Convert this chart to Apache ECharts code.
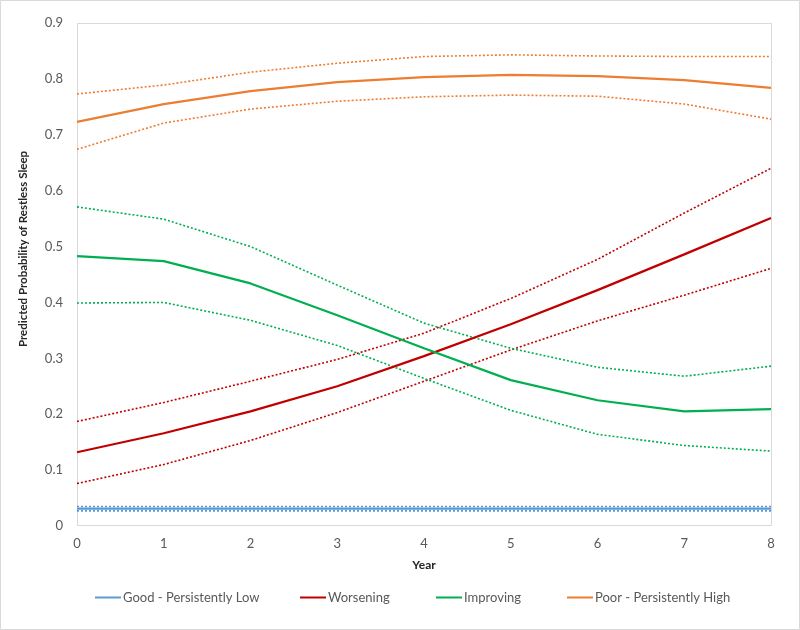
<!DOCTYPE html>
<html><head><meta charset="utf-8">
<script src="https://cdn.jsdelivr.net/npm/echarts@6/dist/echarts.min.js"></script>
<style>html,body{margin:0;padding:0;background:#fff}#c{width:800px;height:630px}</style>
</head><body><div id="c"></div>
<script>
var years = [0,1,2,3,4,5,6,7,8];
var yTicks = [0,0.1,0.2,0.3,0.4,0.5,0.6,0.7,0.8,0.9];
var goodMain  = [0.031,0.031,0.031,0.031,0.031,0.031,0.031,0.031,0.031];
var goodUpper = [0.035,0.035,0.035,0.035,0.035,0.035,0.035,0.035,0.035];
var goodLower = [0.027,0.027,0.027,0.027,0.027,0.027,0.027,0.027,0.027];
var worseMain  = [0.132,0.166,0.205,0.250,0.304,0.361,0.422,0.486,0.551];
var worseUpper = [0.187,0.221,0.259,0.298,0.345,0.407,0.477,0.560,0.640];
var worseLower = [0.076,0.110,0.153,0.203,0.259,0.315,0.367,0.413,0.461];
var impMain  = [0.483,0.474,0.434,0.377,0.318,0.261,0.225,0.205,0.209];
var impUpper = [0.571,0.549,0.500,0.431,0.363,0.318,0.284,0.268,0.286];
var impLower = [0.399,0.400,0.368,0.323,0.264,0.207,0.164,0.144,0.134];
var poorMain  = [0.723,0.755,0.778,0.794,0.803,0.807,0.805,0.798,0.784];
var poorUpper = [0.773,0.789,0.812,0.828,0.840,0.843,0.841,0.840,0.840];
var poorLower = [0.674,0.721,0.746,0.760,0.768,0.771,0.769,0.755,0.728];

var names = ['Good - Persistently Low','Worsening','Improving','Poor - Persistently High'];
var colors = ['#5B9BD5','#C00000','#00B050','#ED7D31'];
var groups = [[goodMain,goodUpper,goodLower],[worseMain,worseUpper,worseLower],[impMain,impUpper,impLower],[poorMain,poorUpper,poorLower]];

function pts(arr){ return years.map(function(x,i){return [x,arr[i]];}); }
var series = [];
groups.forEach(function(g,k){
  series.push({name:names[k],type:'line',data:pts(g[0]),smooth:false,symbol:'none',
    lineStyle:{color:colors[k],width:2.25},itemStyle:{color:colors[k]},z:3});
  [g[1],g[2]].forEach(function(b,j){
    series.push({name:names[k]+(j?' lower':' upper'),type:'line',data:pts(b),smooth:false,symbol:'none',
      lineStyle:{color:colors[k],width:1.6,type:[2,2]},itemStyle:{color:colors[k]},z:2});
  });
});

var ff = "Lato, 'Liberation Sans', sans-serif";
var legendLefts = [95,300,436,567];
var legends = names.map(function(n,k){
  return {data:[{name:n,icon:'rect'}],left:legendLefts[k],top:591,itemWidth:26,itemHeight:2,padding:0,
    textStyle:{color:'#595959',fontSize:13,fontFamily:ff,padding:[0,0,0,-3]}};
});

var chart = echarts.init(document.getElementById('c'),null,{renderer:'canvas'});
chart.setOption({
  animation:false,
  textStyle:{fontFamily:ff},
  graphic:[{type:'rect',shape:{x:0.5,y:0.5,width:799,height:629},style:{fill:'none',stroke:'#d9d9d9',lineWidth:1}},
           {type:'rect',shape:{x:77.5,y:23.5,width:694,height:502},style:{fill:'none',stroke:'#d9d9d9',lineWidth:1},z:0},
           {type:'text',x:23.5,y:249,rotation:Math.PI/2,style:{text:'Predicted Probability of Restless Sleep',fontFamily:ff,fontSize:11.5,fontWeight:'bold',fill:'#262626',align:'center',verticalAlign:'middle'}}],
  grid:{left:77,right:29,top:23,bottom:104,containLabel:false},
  legend:legends,
  xAxis:{type:'value',min:0,max:8,interval:1,name:'Year',nameLocation:'middle',nameGap:33,
    nameTextStyle:{fontWeight:'bold',fontSize:12,color:'#262626',fontFamily:ff},
    axisLine:{show:false},axisTick:{show:false},splitLine:{show:false},
    axisLabel:{color:'#595959',fontSize:13,margin:11,formatter:function(v){return years.indexOf(v)>=0?String(v):'';}}},
  yAxis:{type:'value',min:0,max:0.9,interval:0.1,
    axisLine:{show:false},axisTick:{show:false},splitLine:{show:false},
    axisLabel:{color:'#595959',fontSize:13,margin:14,formatter:function(v){var t=yTicks.filter(function(a){return Math.abs(a-v)<1e-9;});return t.length?String(+v.toFixed(1)):'';}}},
  series:series
});
</script></body></html>
